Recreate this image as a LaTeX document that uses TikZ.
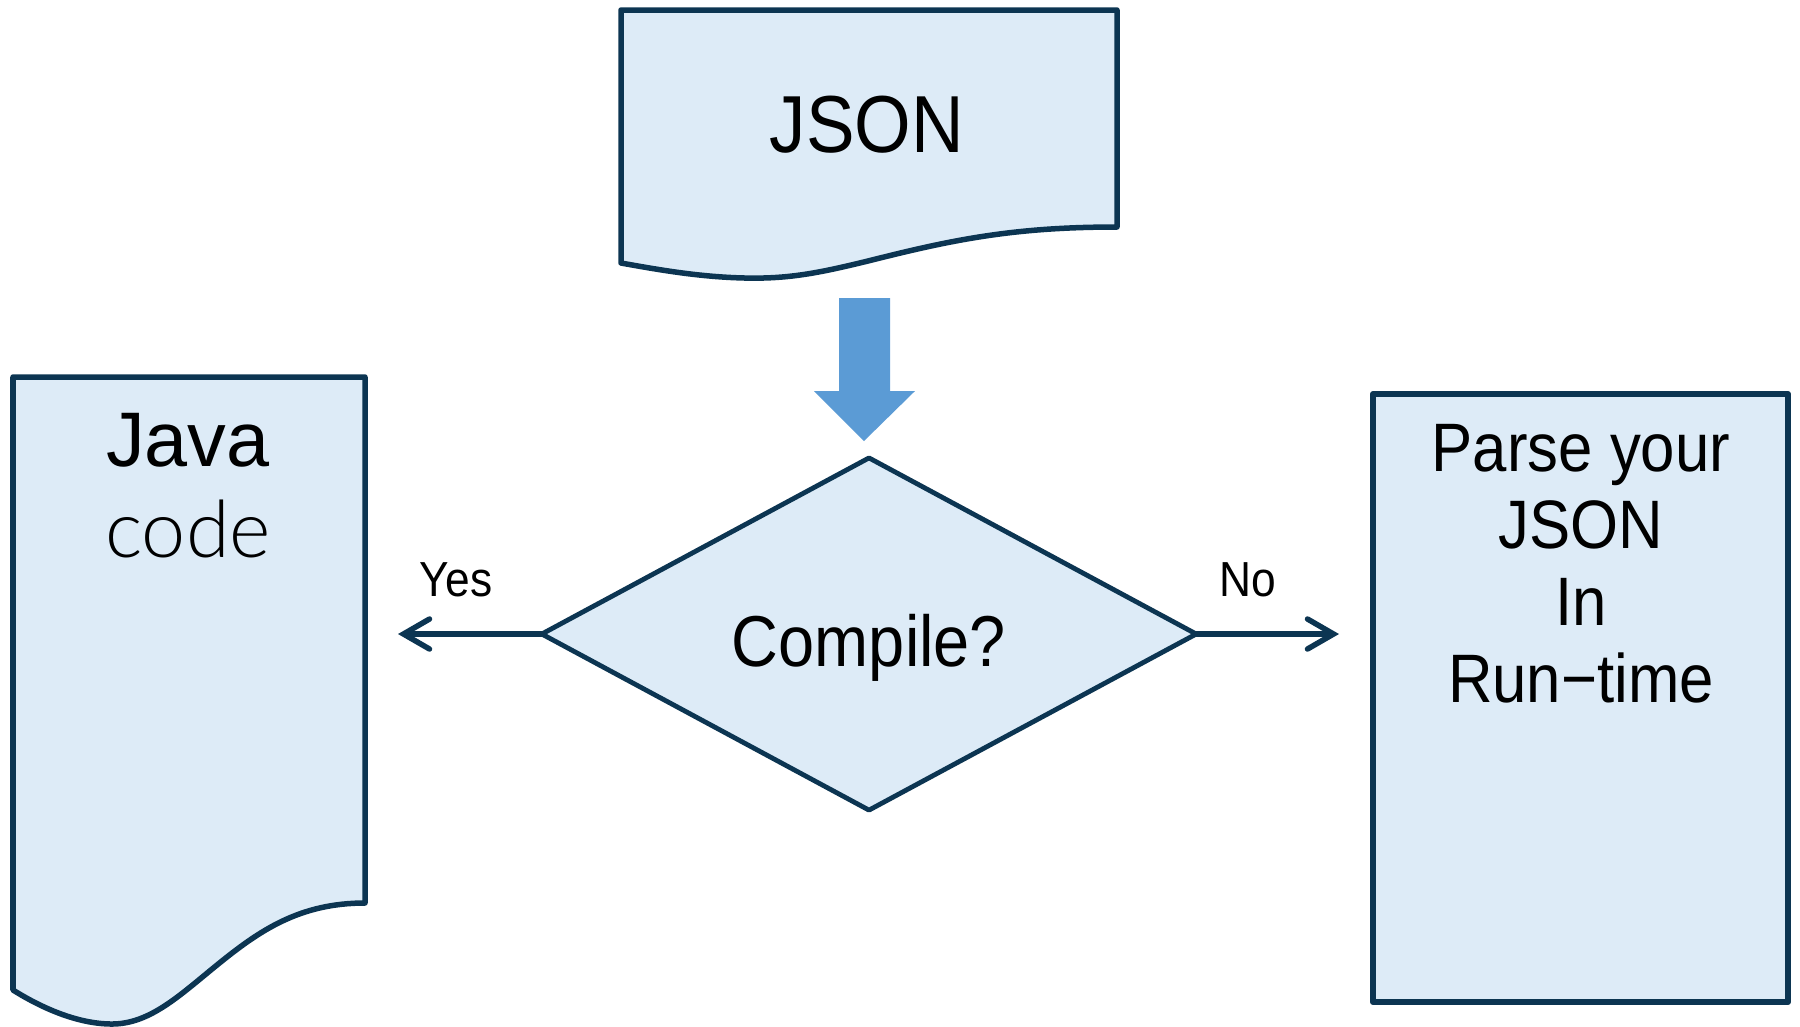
\documentclass[tikz,border=0pt]{standalone}
\usepackage{fontspec}
\setmainfont{Liberation Sans}
\newfontfamily\condfont{Liberation Sans}[FakeStretch=0.9]
\newfontfamily\lightfont{Lato Light}
\usetikzlibrary{shapes.geometric,arrows.meta}
\definecolor{fillblue}{HTML}{DDEBF7}
\definecolor{edge}{HTML}{0C3552}
\definecolor{blockblue}{HTML}{5B9BD5}
\begin{document}
\begin{tikzpicture}[x=0.01cm,y=-0.01cm,
  shapeline/.style={draw=edge,line width=0.055cm,fill=fillblue,line join=round},
  conn/.style={draw=edge,line width=0.055cm,line cap=round,-{Straight Barb[length=0.26cm,width=0.3cm,line cap=round]}},
  lbl/.style={inner sep=0,outer sep=0,text=black}]
\useasboundingbox (0,0) rectangle (1800,1026);

% JSON document shape
\path[shapeline] (621,10) -- (1117,10) -- (1117,227)
  .. controls (1020,227) and (960,238) .. (880,258)
  .. controls (820,273) and (790,279) .. (745,278)
  .. controls (700,277) and (660,270) .. (621,263) -- cycle;
\node[lbl,font=\condfont\fontsize{23}{27}\selectfont] (json) at (867,125) {JSON};

% block arrow
\fill[blockblue] (839,298) -- (890,298) -- (890,391) -- (915,391) -- (864,441) -- (814,391) -- (839,391) -- cycle;

% decision
\node[shapeline,line width=0.048cm,diamond,minimum width=6.54cm,minimum height=3.52cm,inner sep=0,outer sep=0] (dec) at (869,634) {};
\node[lbl,font=\condfont\fontsize{20.5}{24}\selectfont,anchor=base] (compile) at (869,666) {Compile?};

% Java document shape
\path[shapeline] (13,377) -- (365,377) -- (365,903)
  .. controls (300,903) and (260,930) .. (217,965)
  .. controls (180,995) and (150,1024) .. (112,1024)
  .. controls (80,1024) and (45,1010) .. (13,990) -- cycle;
\node[lbl,font=\fontsize{22}{26}\selectfont,anchor=base] (java) at (188,466) {Java};
\node[lbl,font=\lightfont\fontsize{22.5}{26}\selectfont,anchor=base] (code) at (188,557) {code};

% right process box
\node[shapeline,rectangle,minimum width=4.15cm,minimum height=6.08cm,inner sep=0,outer sep=0] (parse) at (1580.5,698) {};
\node[lbl,font=\condfont\fontsize{19.5}{23}\selectfont,anchor=base] (l1) at (1581,471) {Parse your};
\node[lbl,font=\condfont\fontsize{19.5}{23}\selectfont,anchor=base] (l2) at (1581,548) {JSON};
\node[lbl,font=\condfont\fontsize{19.5}{23}\selectfont,anchor=base] (l3) at (1581,625) {In};
\node[lbl,font=\condfont\fontsize{19.5}{23}\selectfont,anchor=base] (l4) at (1581,702) {Run−time};

% connectors
\coordinate (yestip) at (398,634);
\coordinate (notip) at (1339,634);
\draw[conn] (dec.west) -- (yestip);
\draw[conn] (dec.east) -- (notip);
\node[lbl,font=\condfont\fontsize{14}{17}\selectfont,anchor=base] (yes) at (456,596) {Yes};
\node[lbl,font=\condfont\fontsize{14}{17}\selectfont,anchor=base] (no) at (1248,596) {No};
\end{tikzpicture}
\end{document}
